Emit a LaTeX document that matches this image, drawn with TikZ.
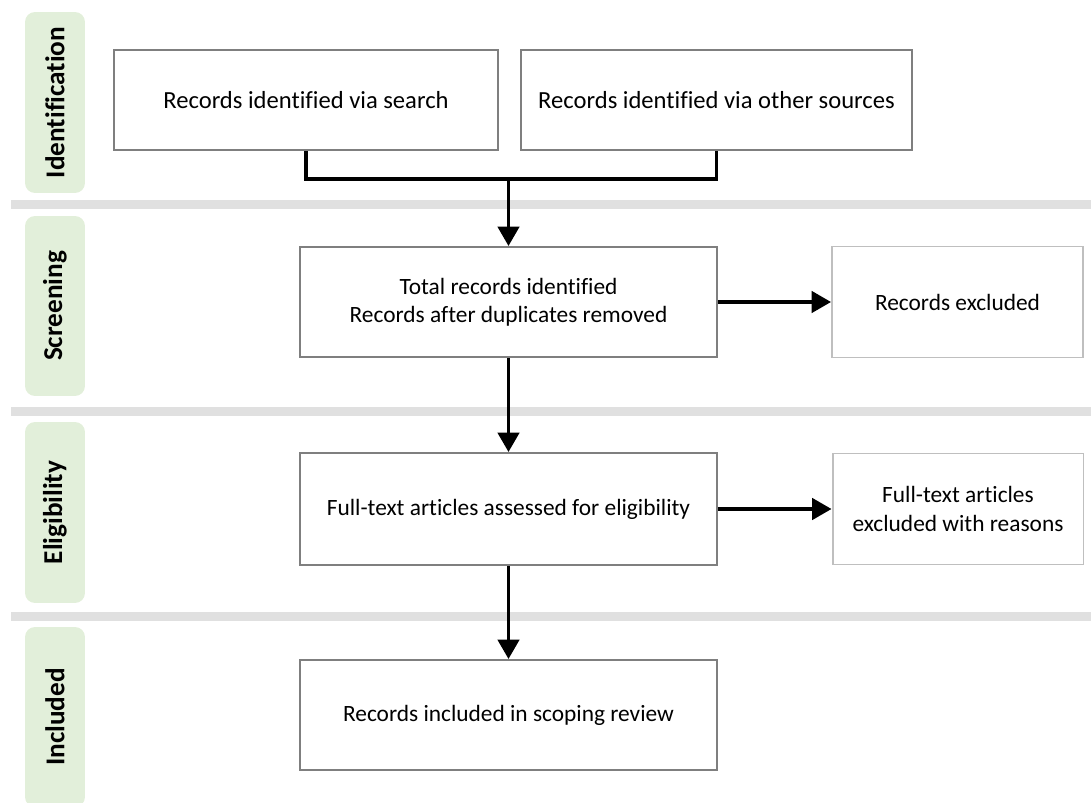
\documentclass[tikz,border=0pt]{standalone}
\usepackage{fontspec}
\setmainfont{Carlito}[Ligatures=NoCommon]
\usetikzlibrary{arrows.meta}
\definecolor{phasegreen}{HTML}{E2EFDA}
\definecolor{sepgray}{HTML}{E0E0E0}
\definecolor{boxgray}{HTML}{7F7F7F}
\definecolor{exclgray}{HTML}{BFBFBF}
\begin{document}
\begin{tikzpicture}
  [x=0.02cm, y=-0.02cm, >={Triangle[length=11pt,width=12pt]},
    phase/.style={
      rotate=90,
      fill=phasegreen,
      rounded corners=0.2cm,
      minimum height=1.2cm,
      font=\bfseries\fontsize{15.5}{18}\selectfont
    },
    separator/.style={
      draw=sepgray,
      line width=0.18cm
    },
    flowbox/.style={
      draw=boxgray,
      line width=1.1pt,
      align=center,
      minimum width=8.34cm,
      minimum height=2.2cm,
      font=\fontsize{13.3}{16}\selectfont
    },
    exclbox/.style={
      flowbox,
      draw=exclgray,
      minimum width=5.02cm,
      minimum height=2.22cm
    },
    link/.style={
      draw=black,
      line width=2.2pt
    },
  ]
\useasboundingbox (0,0) rectangle (1091,803);

% Draw phase labels
\foreach \n/\t/\y/\h in {ident/Identification/102.5/3.62cm,
    screen/Screening/306/3.6cm, elig/Eligibility/512.5/3.62cm,
    incl/Included/717/3.6cm}
  \node [phase, minimum width=\h] (phase-\n) at (55,\y) {\t};

% Draw separators
\foreach \y in {204.5,411.5,616.5}
  \draw [separator] (11,\y) -- (1091,\y);

% Draw boxes
\node [flowbox, minimum width=7.68cm, minimum height=2cm,
  font=\fontsize{14}{17}\selectfont] (search) at (306,100)
  {Records identified via search};
\node [flowbox, minimum width=7.82cm, minimum height=2cm,
  font=\fontsize{14}{17}\selectfont] (other) at (716.5,100)
  {Records identified via other sources};
\node [flowbox] (total) at (508.5,302)
  {Total records identified\\Records after duplicates removed};
\node [exclbox] (excluded) at (957.5,302) {Records excluded};
\node [flowbox, minimum height=2.24cm] (fulltext) at (508.5,509)
  {Full-text articles assessed for eligibility};
\node [exclbox] (ftexcluded) at (958,509)
  {Full-text articles\\excluded with reasons};
\node [flowbox] (included) at (508.5,715) {Records included in scoping review};

% Merge identification boxes
\coordinate (merge) at (508.5,179);
\draw [link] (search.south) |- (merge) -| (other.south);

% Connect boxes
\draw [link,->] (merge) -- (total);
\draw [link,->] (total) -- (excluded);
\draw [link,->] (total) -- (fulltext);
\draw [link,->] (fulltext) -- (ftexcluded);
\draw [link,->] (fulltext) -- (included);
\end{tikzpicture}
\end{document}
